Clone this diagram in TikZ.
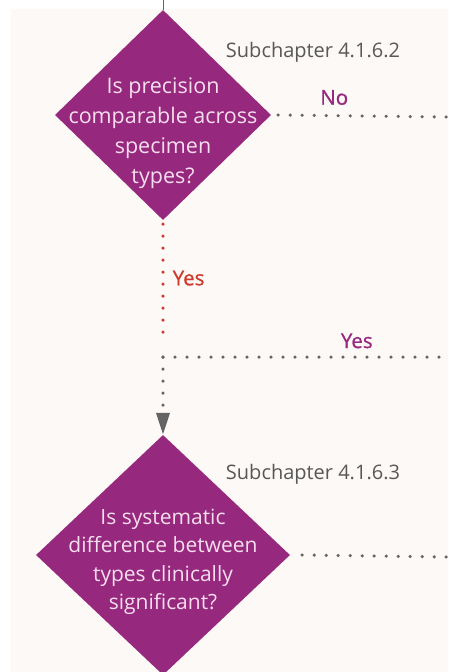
\documentclass[tikz,border=0pt]{standalone}
\usepackage{fontspec}
\setmainfont{Open Sans}
\newfontfamily\answerfont[FakeBold=0.8]{Open Sans}
\usepackage{xcolor}
\definecolor{qpurple}{RGB}{150,40,125}
\definecolor{qtext}{RGB}{246,222,238}
\definecolor{yesred}{RGB}{208,58,44}
\definecolor{dotgray}{RGB}{100,100,100}
\definecolor{refgray}{RGB}{88,88,88}
\definecolor{paper}{RGB}{252,249,246}
\usetikzlibrary{shapes.geometric}
\usetikzlibrary{arrows.meta}
\newcommand{\dotgap}{12pt}
\tikzset{
    decision/.style={diamond, fill=qpurple, inner sep=0pt, draw=none},
    question/.style={align=center, text=qtext, font=\fontsize{21.5}{30}\selectfont},
    subref/.style={text=refgray, font=\fontsize{20}{22}\selectfont},
    answer/.style={font=\answerfont\fontsize{20.5}{22}\selectfont, inner sep=1pt},
    flow/.style={line width=3.5pt, line cap=round, dash pattern=on 0pt off \dotgap},
    graydots/.style={flow, dotgray},
    reddots/.style={flow, yesred}
}

\begin{document}
\begin{tikzpicture}[x=1pt, y=-1pt]
    \useasboundingbox (0,0) rectangle (448,672);
    \fill[paper] (11,9) rectangle (448,672);

    % first question
    \node[decision, minimum width=216pt, minimum height=210pt] (q1) at (163,115) {};
    \node[question] (q1text) at (163,133) {Is precision\\comparable across\\specimen\\types?};
    \node[subref] (ref1) at (313,52) {Subchapter 4.1.6.2};

    % second question
    \node[decision, minimum width=254pt, minimum height=240pt] (q2) at (163,555) {};
    \node[question, font=\fontsize{21}{28.5}\selectfont] (q2text) at (163,562)
        {Is systematic\\difference between\\types clinically\\significant?};
    \node[subref] (ref2) at (313,474) {Subchapter 4.1.6.3};

    \coordinate (top) at (163,0);
    \coordinate (join) at (163,357);
    \coordinate (exit1) at (448,117);
    \coordinate (exit2) at (448,357);
    \coordinate (exit3) at (448,557);

    \draw[dotgray, line width=0.8pt] (top) -- (q1.north);
    \draw[graydots] ([xshift=7pt]q1.east) -- (exit1)
        node[pos=0.33, above=8pt, answer, text=qpurple] (no1) {No};
    \draw[reddots] ([yshift=-4pt]q1.south) -- ([yshift=13pt]join)
        node[pos=0.45, right=7pt, answer, text=yesred] (yes1) {Yes};
    \draw[graydots] (join) -- (exit2)
        node[pos=0.68, above=6pt, answer, text=qpurple] (yes2) {Yes};
    \draw[graydots, -{Triangle[width=13pt, length=22pt, sep=0pt]}] (join) -- (q2.north);
    \draw[graydots] ([xshift=12pt]q2.east) -- (exit3);
\end{tikzpicture}
\end{document}
